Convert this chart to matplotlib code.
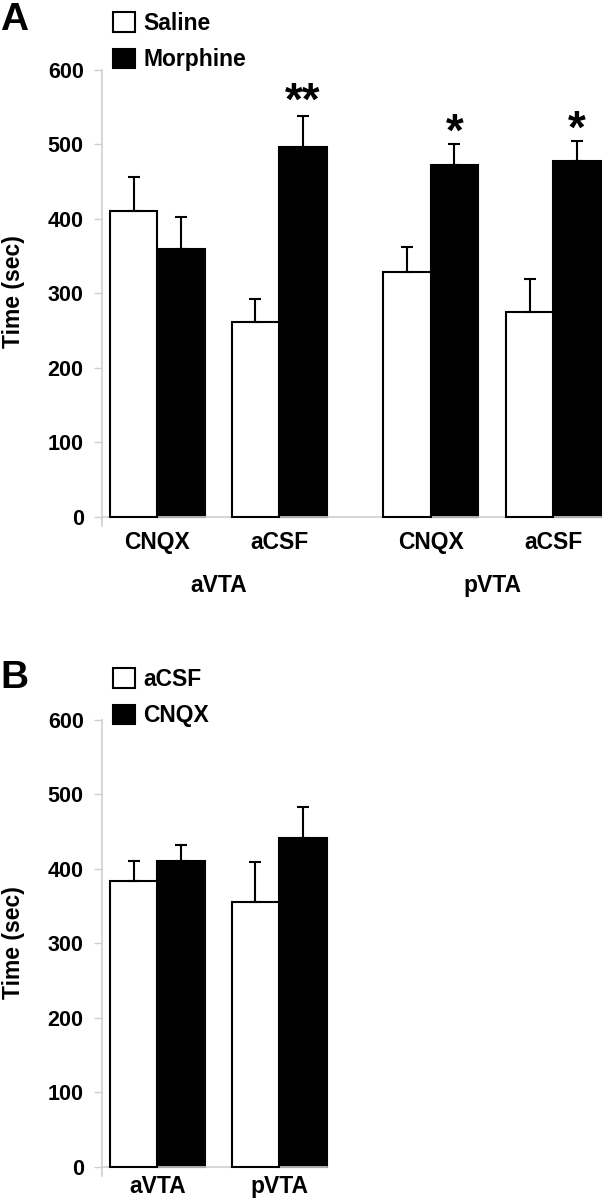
import numpy as np
import matplotlib
matplotlib.use('Agg')
import matplotlib.pyplot as plt
from matplotlib.patches import Patch

plt.rcParams['font.family'] = ['Liberation Sans', 'DejaVu Sans']
plt.rcParams['font.weight'] = 'bold'

# panel A data
a_conditions = ['CNQX', 'aCSF', 'CNQX', 'aCSF']
a_regions = ['aVTA', 'pVTA']
saline = [410, 261, 328, 275]
saline_err = [46, 31, 34, 44]
morphine = [360, 496, 472, 478]
morphine_err = [43, 42, 28, 26]
stars = ['', '**', '*', '*']

# panel B data
b_regions = ['aVTA', 'pVTA']
acsf = [384, 355]
acsf_err = [27, 54]
cnqx = [411, 442]
cnqx_err = [21, 41]

W, H = 602, 1199
fig = plt.figure(figsize=(W / 100, H / 100), dpi=100)

GRAY = '#cfcfcf'
FS = 16.5
pair_x = np.array([1.17, 3.73, 6.91, 9.49])
XMAX = 10.51
YMIN = -12


def style_axis(ax, xmax_line, label_y):
    ax.set_xlim(0, XMAX)
    ax.set_ylim(YMIN, 600)
    ax.set_yticks(range(0, 601, 100))
    for s in ['top', 'right']:
        ax.spines[s].set_visible(False)
    ax.spines['left'].set_color(GRAY)
    ax.spines['left'].set_linewidth(1.2)
    ax.spines['left'].set_bounds(YMIN, 600)
    ax.spines['bottom'].set_position(('data', 0))
    ax.spines['bottom'].set_color(GRAY)
    ax.spines['bottom'].set_linewidth(1.2)
    ax.spines['bottom'].set_bounds(0, xmax_line)
    ax.set_xticks([])
    ax.tick_params(axis='y', length=6, width=1, color=GRAY, labelsize=15.5, pad=7)
    for t in ax.get_yticklabels():
        t.set_fontweight('bold')
    ax.set_ylabel('Time (sec)', fontsize=FS, fontweight='bold')
    ax.yaxis.label.set_va('center')
    ax.yaxis.set_label_coords((13.5 - 101.7) / (W - 101.7), label_y)


def draw_pairs(ax, xc, left_vals, left_err, right_vals, right_err):
    ekw = dict(elinewidth=1.5, capthick=1.5, ecolor='black')
    ax.bar(xc - 0.5, left_vals, width=1, color='white', edgecolor='black',
           linewidth=1.5, yerr=[np.zeros(len(left_vals)), left_err],
           capsize=4.5, error_kw=ekw, zorder=3)
    ax.bar(xc + 0.5, right_vals, width=1, color='black', edgecolor='black',
           linewidth=1.5, yerr=[np.zeros(len(right_vals)), right_err],
           capsize=4.5, error_kw=ekw, zorder=2)


def add_legend(ax, labels, top_px):
    leg = ax.legend(handles=[Patch(facecolor='white', edgecolor='black', linewidth=1.5, label=labels[0]),
                             Patch(facecolor='black', edgecolor='black', linewidth=1.5, label=labels[1])],
                    loc='upper left', bbox_to_anchor=(113 / W, 1 - top_px / H),
                    bbox_transform=fig.transFigure, frameon=False, fontsize=FS,
                    handlelength=0.96, handleheight=0.92, handletextpad=0.35,
                    labelspacing=0.58, borderpad=0, borderaxespad=0)
    for t in leg.get_texts():
        t.set_fontweight('bold')


# ---- panel A ----
axA = fig.add_axes([101.7 / W, 1 - 525.6 / H, 1 - 101.7 / W, (525.6 - 70) / H])
style_axis(axA, XMAX, (525.6 - 292) / (525.6 - 70))
draw_pairs(axA, pair_x, saline, saline_err, morphine, morphine_err)
for x, lab in zip(pair_x, a_conditions):
    axA.text(x, -35, lab, ha='center', va='center', fontsize=FS, fontweight='bold')
for i, reg in enumerate(a_regions):
    axA.text(pair_x[2 * i:2 * i + 2].mean(), -92, reg, ha='center', va='center',
             fontsize=FS, fontweight='bold', clip_on=False)
for x, v, e, s in zip(pair_x + 0.5, morphine, morphine_err, stars):
    if s:
        axA.text(x, v + e + (2 if len(s) > 1 else -2), s, ha='center', va='baseline',
                 fontsize=33, fontweight='bold', clip_on=False)
add_legend(axA, ['Saline', 'Morphine'], 12)
fig.text(0 / W, 1 - 20 / H, 'A', fontsize=28, fontweight='bold', ha='left', va='center')

# ---- panel B ----
axB = fig.add_axes([101.7 / W, 1 - 1175.6 / H, 1 - 101.7 / W, (1175.6 - 720) / H])
style_axis(axB, pair_x[1] + 1, (1175.6 - 943) / (1175.6 - 720))
draw_pairs(axB, pair_x[:2], acsf, acsf_err, cnqx, cnqx_err)
for x, lab in zip(pair_x[:2], b_regions):
    axB.text(x, -27, lab, ha='center', va='center', fontsize=FS, fontweight='bold',
             clip_on=False)
add_legend(axB, ['aCSF', 'CNQX'], 668)
fig.text(0 / W, 1 - 678 / H, 'B', fontsize=28, fontweight='bold', ha='left', va='center')

fig.savefig('out.png', dpi=100)
